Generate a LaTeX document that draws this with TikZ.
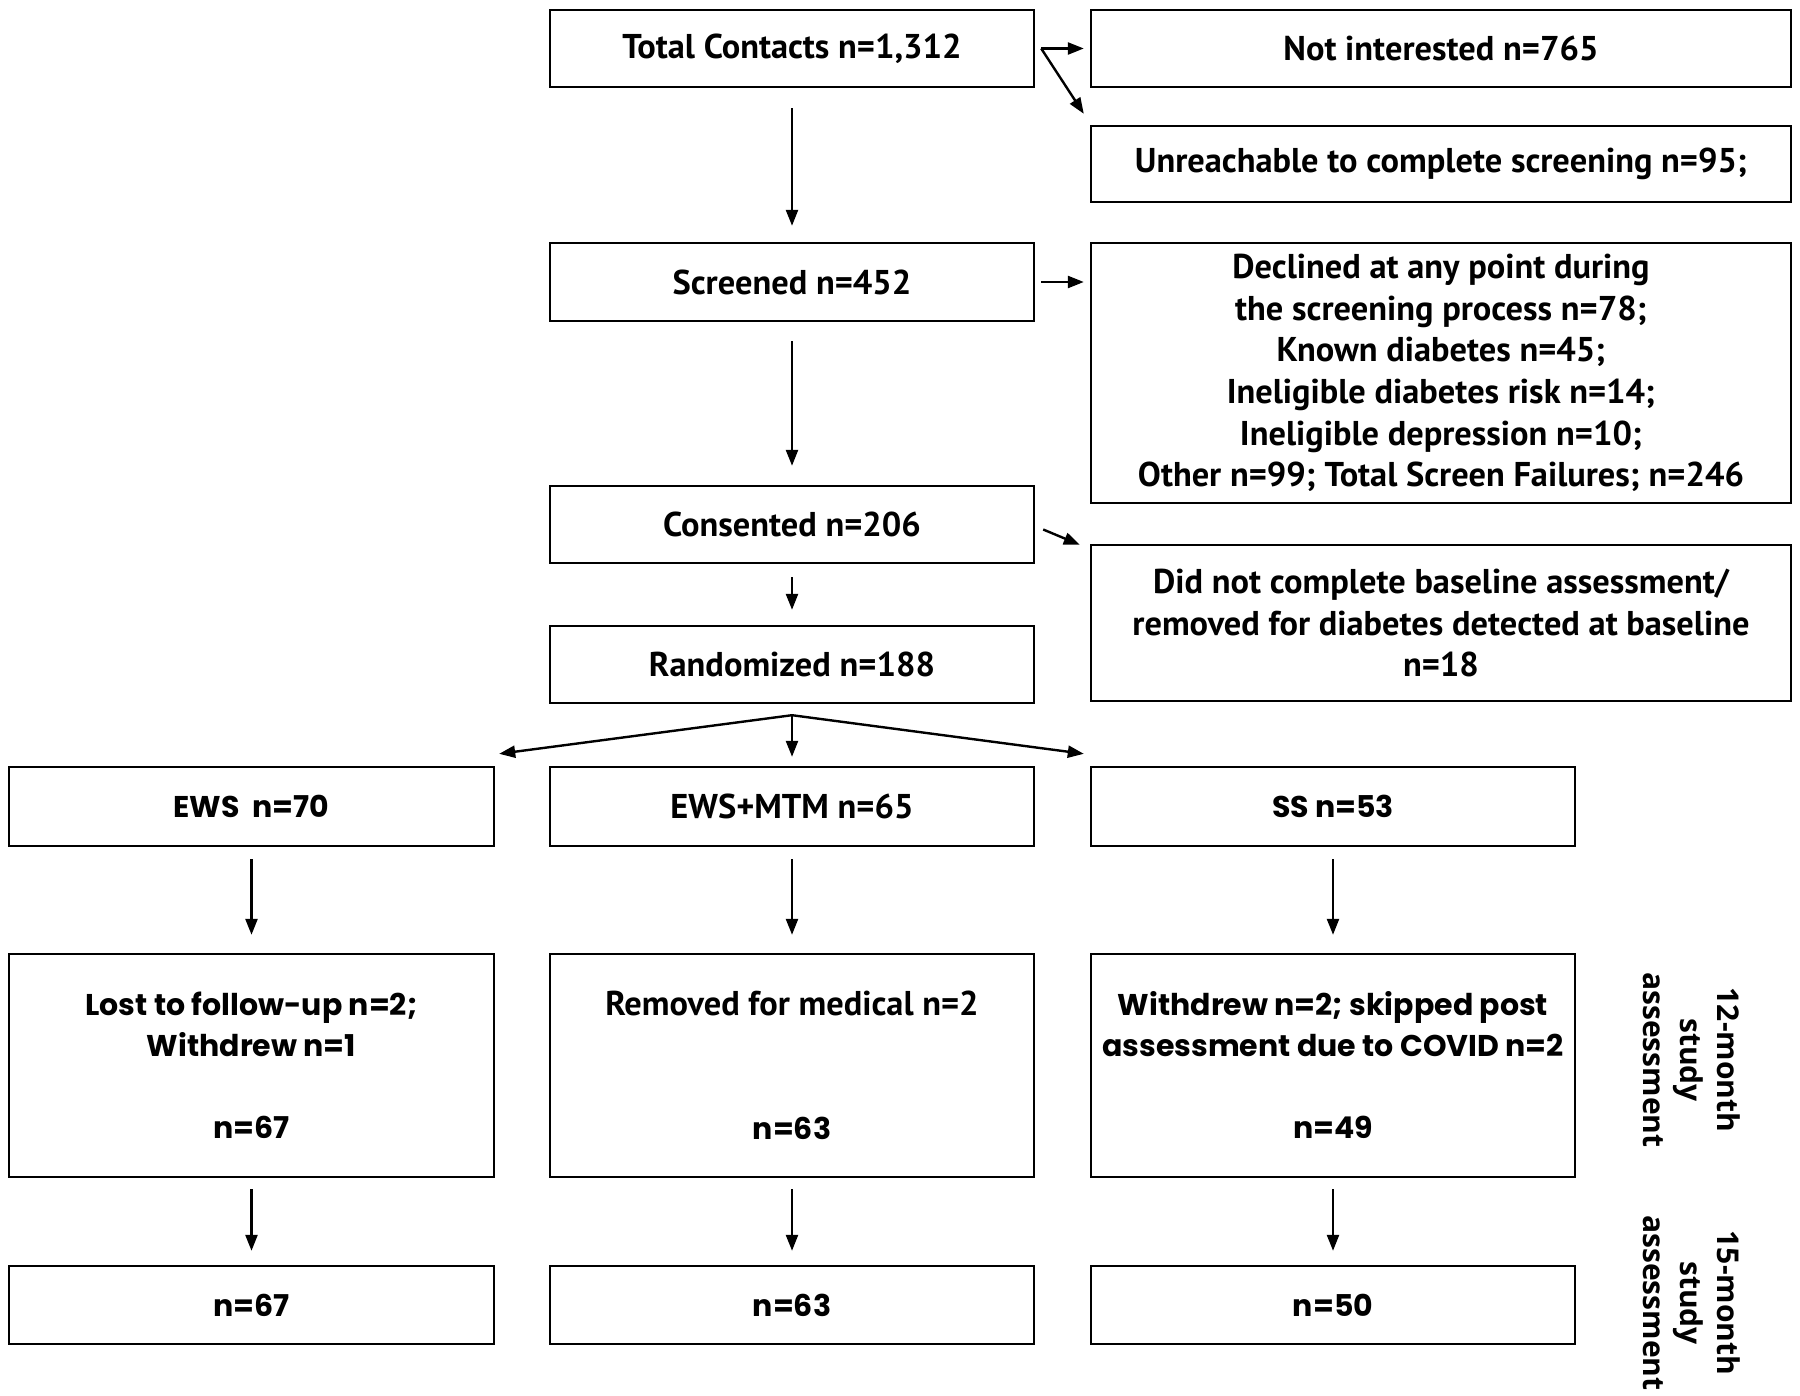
\documentclass[tikz,border=0pt]{standalone}
\usepackage{fontspec}
\usetikzlibrary{arrows.meta,calc}
\newfontfamily\condfont{PT Sans}
\newfontfamily\widefont{Poppins}
\newfontfamily\sidefont{Open Sans}
\tikzset{
  box/.style={draw, line width=1.2pt, inner sep=0pt, align=center, text=black},
  cbox/.style={box, font=\condfont\bfseries\fontsize{17.2}{20.8}\selectfont},
  wbox/.style={box, font=\widefont\bfseries\fontsize{15}{20.5}\selectfont},
  arr/.style={line width=1.2pt, -{Triangle[length=8pt,width=6pt]}},
  side/.style={rotate=-90, align=center, font=\sidefont\bfseries\fontsize{15}{18.5}\selectfont}
}
\begin{document}
\begin{tikzpicture}[x=0.5pt,y=-0.5pt]
\useasboundingbox (0,0) rectangle (1800,1396);
% top flow
\node[cbox, minimum width=242pt, minimum height=38.5pt] (tot) at (792,48.5) {Total Contacts n=1,312};
\node[cbox, minimum width=350pt, minimum height=38.5pt] (notint) at (1441,48.5) {Not interested n=765};
\node[cbox, minimum width=350pt, minimum height=38pt] (unreach) at (1441,164) {Unreachable to complete screening n=95;};
\node[cbox, minimum width=242pt, minimum height=39pt] (scr) at (792,282) {Screened n=452};
\node[cbox, minimum width=350pt, minimum height=130pt] (decl) at (1441,373) {Declined at any point during\\the screening process n=78;\\Known diabetes n=45;\\Ineligible diabetes risk n=14;\\Ineligible depression n=10;\\Other n=99; Total Screen Failures; n=246};
\node[cbox, minimum width=242pt, minimum height=38.5pt] (cons) at (792,524.5) {Consented n=206};
\node[cbox, minimum width=350pt, minimum height=78pt] (dnc) at (1441,623) {Did not complete baseline assessment/\\removed for diabetes detected at baseline\\n=18};
\node[cbox, minimum width=242pt, minimum height=38.5pt] (rand) at (792,664.5) {Randomized n=188};
% arms
\node[wbox, minimum width=242.5pt, minimum height=39.5pt] (ews) at (251.5,806.5) {EWS\ \ n=70};
\node[cbox, minimum width=242pt, minimum height=39.5pt] (ewsm) at (792,806.5) {EWS+MTM n=65};
\node[wbox, minimum width=242pt, minimum height=39.5pt] (ss) at (1333,806.5) {SS n=53};
% 12 months
\node[wbox, minimum width=242.5pt, minimum height=111.5pt] (ews2) at (251.5,1065.5) {Lost to follow-up n=2;\\Withdrew n=1\\[20.5pt]n=67};
\node[cbox, minimum width=242pt, minimum height=111.5pt] (ewsm2) at (792,1065.5) {Removed for medical n=2\\[41pt]{\widefont\fontsize{15}{20.5}\selectfont n=63}};
\node[wbox, minimum width=242pt, minimum height=111.5pt] (ss2) at (1333,1065.5) {Withdrew n=2; skipped post\\assessment due to COVID n=2\\[20.5pt]n=49};
% 15 months
\node[wbox, minimum width=242.5pt, minimum height=39pt] (ews3) at (251.5,1305) {n=67};
\node[wbox, minimum width=242pt, minimum height=39pt] (ewsm3) at (792,1305) {n=63};
\node[wbox, minimum width=242pt, minimum height=39pt] (ss3) at (1333,1305) {n=50};
% side labels
\node[side] (lab12) at (1692,1060) {12-month\\study\\assessment};
\node[side] (lab15) at (1692,1303) {15-month\\study\\assessment};
% connectors
\coordinate (tstart) at ($(tot.east)+(6,0)$);
\draw[arr] (tstart) -- ($(notint.west)+(-6,0)$);
\draw[arr] (tstart) -- ($(unreach.north west)+(-6,-11)$);
\draw[arr, shorten <=10pt, shorten >=8pt] (tot) -- (scr);
\draw[arr] ($(scr.east)+(6,0)$) -- ($(decl.west|-scr.east)+(-6,0)$);
\draw[arr, shorten <=9.5pt, shorten >=9.5pt] (scr) -- (cons);
\draw[arr] ($(cons.east)+(8,5)$) -- ($(dnc.north west)+(-10,1)$);
\draw[arr, shorten <=6.5pt, shorten >=7.5pt] (cons) -- (rand);
\coordinate (fan) at ($(rand.south)+(0,11)$);
\draw[arr] (fan) -- ($(ews.north east)+(4,-12)$);
\draw[arr] (fan) -- ($(ewsm.north)+(0,-9)$);
\draw[arr] (fan) -- ($(ss.north west)+(-6,-12)$);
\foreach \a/\b in {ews/ews2, ewsm/ewsm2, ss/ss2}
  \draw[arr, shorten <=6pt, shorten >=9pt] (\a) -- (\b);
\foreach \a/\b in {ews2/ews3, ewsm2/ewsm3, ss2/ss3}
  \draw[arr, shorten <=5.5pt, shorten >=7pt] (\a) -- (\b);
\end{tikzpicture}
\end{document}
